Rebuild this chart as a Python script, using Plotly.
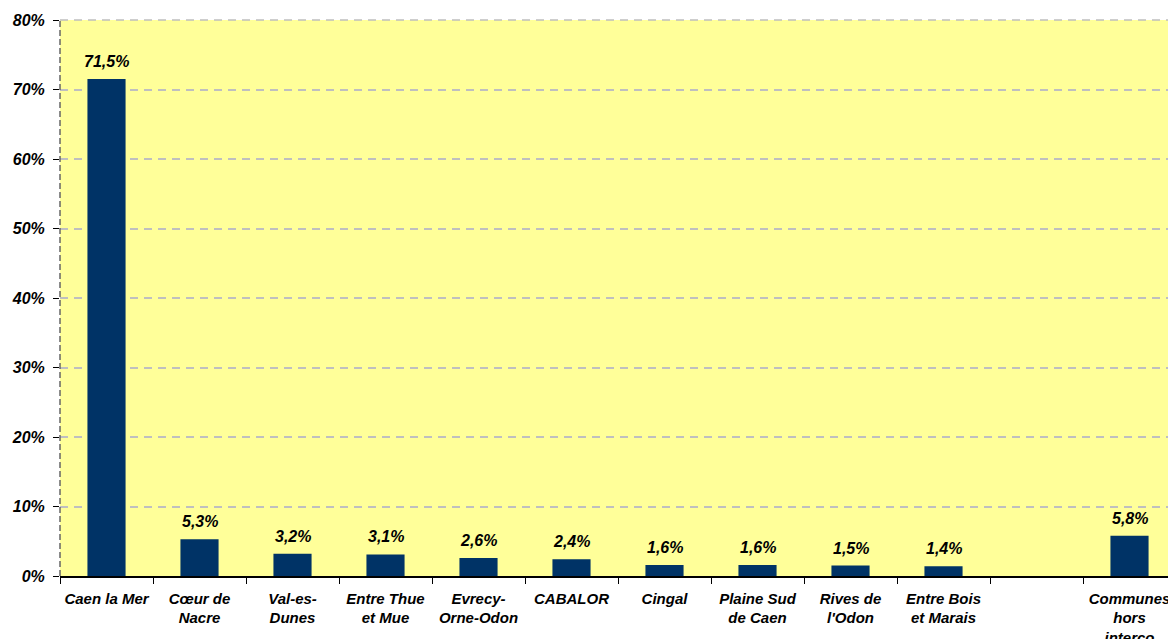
import plotly.graph_objects as go

categories = ["Caen la Mer", "Cœur de<br>Nacre", "Val-es-<br>Dunes", "Entre Thue<br>et Mue",
              "Evrecy-<br>Orne-Odon", "CABALOR", "Cingal", "Plaine Sud<br>de Caen",
              "Rives de<br>l'Odon", "Entre Bois<br>et Marais", " ", "Communes<br>hors<br>interco"]
values = [71.5, 5.3, 3.2, 3.1, 2.6, 2.4, 1.6, 1.6, 1.5, 1.4, None, 5.8]
y_ticks = [0, 10, 20, 30, 40, 50, 60, 70, 80]

font_family = "Liberation Sans, Arial, sans-serif"

fig = go.Figure()
fig.add_trace(go.Bar(
    x=categories, y=values,
    marker=dict(color="#003366", line=dict(width=0)),
    width=0.41,
))

annotations = []
for c, v in zip(categories, values):
    if v is None:
        continue
    annotations.append(dict(
        x=c, y=v, xref="x", yref="y",
        text=f"<b><i>{v:.1f}%</i></b>".replace(".", ","),
        showarrow=False, yanchor="bottom", yshift=7,
        font=dict(family=font_family, size=16, color="#000000"),
    ))

fig.update_layout(
    width=1168, height=631,
    margin=dict(l=52, r=0, t=12, b=63, autoexpand=False),
    paper_bgcolor="white", plot_bgcolor="#FFFF99",
    showlegend=False,
    font=dict(family=font_family, color="#000000"),
    annotations=annotations,
    shapes=[
        dict(type="line", xref="paper", yref="paper", x0=0, x1=1, y0=1, y1=1,
             line=dict(color="#BFBFBF", width=1.5, dash="8px,6px"), layer="above"),
        dict(type="line", xref="paper", yref="paper", x0=0, x1=0, y0=0, y1=1,
             line=dict(color="#666666", width=1.5, dash="6px,3px"), layer="above"),
    ],
)
fig.update_xaxes(
    type="category", automargin=False,
    tickson="boundaries", ticks="outside", ticklen=6, tickcolor="#000000",
    ticklabelstandoff=8,
    showline=True, linecolor="#000000", linewidth=1.5,
    showgrid=False,
    tickangle=0,
    tickfont=dict(family=font_family, size=15, color="#000000", weight="bold", style="italic"),
)
fig.update_yaxes(
    range=[0, 80], tickvals=y_ticks, ticktext=[f"<b><i>{t}%</i></b>" for t in y_ticks],
    automargin=False,
    ticks="outside", ticklen=6, tickcolor="#000000",
    ticklabelstandoff=5,
    showline=False,
    showgrid=True, gridcolor="#BFBFBF", griddash="8px,6px", gridwidth=1.5,
    zeroline=False,
    tickfont=dict(family=font_family, size=16, color="#000000"),
)

fig.write_html("out.html")
